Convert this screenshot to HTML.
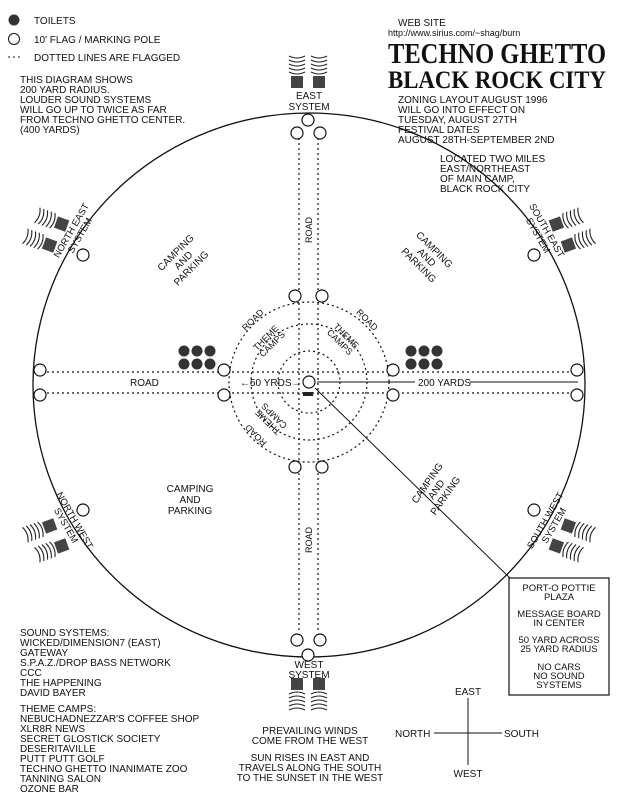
<!DOCTYPE html>
<html><head><meta charset="utf-8"><style>
html,body{margin:0;padding:0;background:#fff}
svg{display:block}
text{font-family:"Liberation Sans",sans-serif;fill:#111}
</style></head><body>
<svg width="624" height="800" viewBox="0 0 624 800" xmlns="http://www.w3.org/2000/svg">
<defs>
<g id="spk">
<rect x="-6" y="0" width="12" height="12" fill="#444"/>
<g fill="none" stroke="#222" stroke-width="1.1">
<path d="M-8,-4 Q0,0 8,-4"/><path d="M-8,-8 Q0,-4 8,-8"/><path d="M-8,-12 Q0,-8 8,-12"/><path d="M-8,-16 Q0,-12 8,-16"/><path d="M-8,-20 Q0,-16 8,-20"/>
</g>
</g>
<g id="toi"><circle r="5.5" fill="#333"/></g>
</defs>

<!-- legend -->
<circle cx="14" cy="20" r="5.5" fill="#333"/>
<text x="34" y="24" font-size="10">TOILETS</text>
<circle cx="14" cy="39" r="5.5" fill="none" stroke="#111"/>
<text x="34" y="43" font-size="10">10' FLAG / MARKING POLE</text>
<line x1="8" y1="57" x2="22" y2="57" stroke="#111" stroke-dasharray="2,3"/>
<text x="34" y="61" font-size="10">DOTTED LINES ARE FLAGGED</text>
<g font-size="10">
<text x="20" y="83">THIS DIAGRAM SHOWS</text>
<text x="20" y="93">200 YARD RADIUS.</text>
<text x="20" y="103">LOUDER SOUND SYSTEMS</text>
<text x="20" y="113">WILL GO UP TO TWICE AS FAR</text>
<text x="20" y="123">FROM TECHNO GHETTO CENTER.</text>
<text x="20" y="133">(400 YARDS)</text>
</g>

<!-- header right -->
<text x="398" y="26" font-size="10">WEB SITE</text>
<text x="388" y="36" font-size="9">http://www.sirius.com/~shag/burn</text>
<text x="388" y="63" font-size="28" font-weight="bold" textLength="218" lengthAdjust="spacingAndGlyphs" style="font-family:'Liberation Serif',serif">TECHNO GHETTO</text>
<text x="388" y="88" font-size="25" font-weight="bold" textLength="218" lengthAdjust="spacingAndGlyphs" style="font-family:'Liberation Serif',serif">BLACK ROCK CITY</text>
<g font-size="10">
<text x="398" y="103">ZONING LAYOUT AUGUST 1996</text>
<text x="398" y="113">WILL GO INTO EFFECT ON</text>
<text x="398" y="123">TUESDAY, AUGUST 27TH</text>
<text x="398" y="133">FESTIVAL DATES</text>
<text x="398" y="143">AUGUST 28TH-SEPTEMBER 2ND</text>
<text x="440" y="162">LOCATED TWO MILES</text>
<text x="440" y="172">EAST/NORTHEAST</text>
<text x="440" y="182">OF MAIN CAMP,</text>
<text x="440" y="192">BLACK ROCK CITY</text>
</g>

<!-- main circle -->
<ellipse cx="309" cy="385" rx="276" ry="272" fill="none" stroke="#111" stroke-width="1.3"/>

<!-- roads -->
<g stroke="#111" stroke-width="1.2" stroke-dasharray="2,3" fill="none">
<line x1="299" y1="138" x2="299" y2="632"/>
<line x1="318" y1="138" x2="318" y2="632"/>
<line x1="47" y1="372" x2="570" y2="372"/>
<line x1="47" y1="393" x2="570" y2="393"/>
<circle cx="309" cy="382" r="80"/>
<circle cx="309" cy="382" r="58"/>
<circle cx="309" cy="382" r="31"/>
</g>

<!-- center & leader -->
<line x1="317" y1="382" x2="415" y2="382" stroke="#111"/>
<line x1="470" y1="382" x2="578" y2="382" stroke="#111"/>
<line x1="315" y1="388" x2="510" y2="578" stroke="#111"/>
<rect x="303" y="392" width="10" height="4" fill="#222"/>
<text x="240" y="386" font-size="10">←50 YRDS→</text>
<text x="418" y="386" font-size="10">200 YARDS</text>
<text x="130" y="386" font-size="10">ROAD</text>

<!-- poles -->
<g fill="#fff" stroke="#111" stroke-width="1.2">
<circle cx="309" cy="382" r="6"/>
<circle cx="308" cy="120" r="6"/><circle cx="297" cy="133" r="6"/><circle cx="320" cy="133" r="6"/>
<circle cx="295" cy="296" r="6"/><circle cx="322" cy="296" r="6"/>
<circle cx="295" cy="467" r="6"/><circle cx="322" cy="467" r="6"/>
<circle cx="224" cy="370" r="6"/><circle cx="224" cy="395" r="6"/>
<circle cx="393" cy="370" r="6"/><circle cx="393" cy="395" r="6"/>
<circle cx="40" cy="370" r="6"/><circle cx="40" cy="395" r="6"/>
<circle cx="577" cy="370" r="6"/><circle cx="577" cy="395" r="6"/>
<circle cx="297" cy="640" r="6"/><circle cx="320" cy="640" r="6"/><circle cx="308" cy="655" r="6"/>
<circle cx="83" cy="255" r="6"/><circle cx="534" cy="255" r="6"/>
<circle cx="83" cy="510" r="6"/><circle cx="534" cy="510" r="6"/>
</g>

<!-- toilets -->
<g>
<use href="#toi" x="184" y="351"/><use href="#toi" x="197" y="351"/><use href="#toi" x="210" y="351"/>
<use href="#toi" x="184" y="364"/><use href="#toi" x="197" y="364"/><use href="#toi" x="210" y="364"/>
<use href="#toi" x="411" y="351"/><use href="#toi" x="424" y="351"/><use href="#toi" x="437" y="351"/>
<use href="#toi" x="411" y="364"/><use href="#toi" x="424" y="364"/><use href="#toi" x="437" y="364"/>
</g>

<!-- ring labels -->
<g font-size="9" text-anchor="middle">
<text transform="translate(255,322) rotate(-45)">ROAD</text>
<text transform="translate(365,322) rotate(45)">ROAD</text>
<text transform="translate(258,433) rotate(-135)">ROAD</text>
<text transform="translate(268,340) rotate(-45)"><tspan x="0" y="0">THEME</tspan><tspan x="0" y="9">CAMPS</tspan></text>
<text transform="translate(344,338) rotate(45)"><tspan x="0" y="0">THEME</tspan><tspan x="0" y="9">CAMPS</tspan></text>
<text transform="translate(270,420) rotate(-135)"><tspan x="0" y="0">THEME</tspan><tspan x="0" y="9">CAMPS</tspan></text>
<text transform="translate(312,230) rotate(-90)">ROAD</text>
<text transform="translate(312,540) rotate(-90)">ROAD</text>
</g>

<!-- camping labels -->
<g font-size="10" text-anchor="middle">
<text transform="translate(178,255) rotate(-45)"><tspan x="0" y="0">CAMPING</tspan><tspan x="0" y="11">AND</tspan><tspan x="0" y="22">PARKING</tspan></text>
<text transform="translate(432,252) rotate(45)"><tspan x="0" y="0">CAMPING</tspan><tspan x="0" y="11">AND</tspan><tspan x="0" y="22">PARKING</tspan></text>
<text transform="translate(190,492)"><tspan x="0" y="0">CAMPING</tspan><tspan x="0" y="11">AND</tspan><tspan x="0" y="22">PARKING</tspan></text>
<text transform="translate(430,485) rotate(-55)"><tspan x="0" y="0">CAMPING</tspan><tspan x="0" y="11">AND</tspan><tspan x="0" y="22">PARKING</tspan></text>
</g>

<!-- speakers -->
<use href="#spk" transform="translate(297,76)"/>
<use href="#spk" transform="translate(319,76)"/>
<text x="309" y="99" font-size="10" text-anchor="middle">EAST</text>
<text x="309" y="110" font-size="10" text-anchor="middle">SYSTEM</text>
<use href="#spk" transform="translate(297,690) rotate(180)"/>
<use href="#spk" transform="translate(319,690) rotate(180)"/>
<text x="309" y="668" font-size="10" text-anchor="middle">WEST</text>
<text x="309" y="678" font-size="10" text-anchor="middle">SYSTEM</text>

<use href="#spk" transform="translate(56,222) rotate(-70)"/>
<use href="#spk" transform="translate(44,243) rotate(-70)"/>
<use href="#spk" transform="translate(562,222) rotate(70)"/>
<use href="#spk" transform="translate(574,243) rotate(70)"/>
<use href="#spk" transform="translate(44,528) rotate(-110)"/>
<use href="#spk" transform="translate(56,548) rotate(-110)"/>
<use href="#spk" transform="translate(574,528) rotate(110)"/>
<use href="#spk" transform="translate(562,548) rotate(110)"/>

<g font-size="9.5" text-anchor="middle">
<text transform="translate(74,232) rotate(-60)"><tspan x="0" y="0">NORTH EAST</tspan><tspan x="0" y="10">SYSTEM</tspan></text>
<text transform="translate(544,232) rotate(60)"><tspan x="0" y="0">SOUTH EAST</tspan><tspan x="0" y="10">SYSTEM</tspan></text>
<text transform="translate(72,522) rotate(60)"><tspan x="0" y="0">NORTH WEST</tspan><tspan x="0" y="10">SYSTEM</tspan></text>
<text transform="translate(548,522) rotate(-60)"><tspan x="0" y="0">SOUTH WEST</tspan><tspan x="0" y="10">SYSTEM</tspan></text>
</g>

<!-- info box -->
<rect x="509" y="578" width="100" height="117" fill="#fff" stroke="#111" stroke-width="1.2"/>
<g font-size="9.5" text-anchor="middle">
<text x="559" y="591">PORT-O POTTIE</text><text x="559" y="600">PLAZA</text>
<text x="559" y="617">MESSAGE BOARD</text><text x="559" y="626">IN CENTER</text>
<text x="559" y="643">50 YARD ACROSS</text><text x="559" y="652">25 YARD RADIUS</text>
<text x="559" y="670">NO CARS</text><text x="559" y="679">NO SOUND</text><text x="559" y="688">SYSTEMS</text>
</g>

<!-- compass -->
<line x1="468" y1="698" x2="468" y2="765" stroke="#111"/>
<line x1="434" y1="733" x2="502" y2="733" stroke="#111"/>
<g font-size="10">
<text x="468" y="695" text-anchor="middle">EAST</text>
<text x="468" y="777" text-anchor="middle">WEST</text>
<text x="395" y="737">NORTH</text>
<text x="504" y="737">SOUTH</text>
</g>

<!-- bottom left lists -->
<g font-size="10">
<text x="20" y="636">SOUND SYSTEMS:</text>
<text x="20" y="646">WICKED/DIMENSION7 (EAST)</text>
<text x="20" y="656">GATEWAY</text>
<text x="20" y="666">S.P.A.Z./DROP BASS NETWORK</text>
<text x="20" y="676">CCC</text>
<text x="20" y="686">THE HAPPENING</text>
<text x="20" y="696">DAVID BAYER</text>
<text x="20" y="712">THEME CAMPS:</text>
<text x="20" y="722">NEBUCHADNEZZAR'S COFFEE SHOP</text>
<text x="20" y="732">XLR8R NEWS</text>
<text x="20" y="742">SECRET GLOSTICK SOCIETY</text>
<text x="20" y="752">DESERITAVILLE</text>
<text x="20" y="762">PUTT PUTT GOLF</text>
<text x="20" y="772">TECHNO GHETTO INANIMATE ZOO</text>
<text x="20" y="782">TANNING SALON</text>
<text x="20" y="792">OZONE BAR</text>
</g>
<g font-size="10" text-anchor="middle">
<text x="310" y="734">PREVAILING WINDS</text>
<text x="310" y="744">COME FROM THE WEST</text>
<text x="310" y="761">SUN RISES IN EAST AND</text>
<text x="310" y="771">TRAVELS ALONG THE SOUTH</text>
<text x="310" y="781">TO THE SUNSET IN THE WEST</text>
</g>
</svg>
</body></html>
